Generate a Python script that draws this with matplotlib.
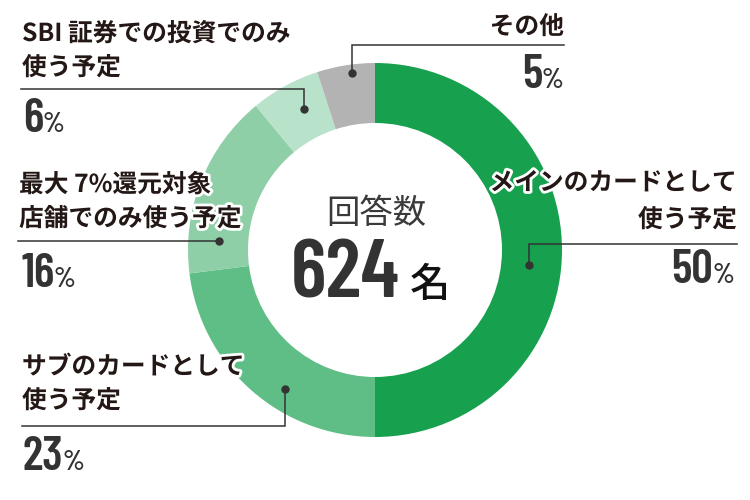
import matplotlib
matplotlib.use("Agg")
from matplotlib import pyplot as plt
from matplotlib import font_manager
import matplotlib.patheffects as pe

# answer shares, clockwise from 12 o'clock
shares = [50, 23, 16, 6, 5]
labels = [
    "メインのカードとして\n使う予定",
    "サブのカードとして\n使う予定",
    "最大 7%還元対象\n店舗でのみ使う予定",
    "SBI 証券での投資でのみ\n使う予定",
    "その他",
]
colors = ["#17a14f", "#5fbe85", "#8ecfa7", "#b8e2c9", "#b3b3b3"]
total_answers = 624

# narrow bold face for the big numbers, whatever is installed
fonts = {(f.name, f.weight) for f in font_manager.fontManager.ttflist}
NUM_FONT, NUM_W, thicken = "Oswald", 400, True
for cand in ["Barlow Condensed", "Roboto Condensed", "Asap Condensed"]:
    ws = [w for n, w in fonts if n == cand and isinstance(w, int) and 600 <= w <= 700]
    if ws:
        NUM_FONT, NUM_W, thicken = cand, min(ws), False
        break
JP = ["Noto Sans CJK JP", "DejaVu Sans"]

fig = plt.figure(figsize=(7.5, 5), dpi=100)
ax = fig.add_axes([0, 0, 1, 1])

# pixel-like coordinates, y grows downward
ax.pie(shares, colors=colors, startangle=-90, counterclock=True,
       center=(375, 250), radius=187, frame=True,
       wedgeprops=dict(width=60, linewidth=0))
ax.set_xlim(0, 750)
ax.set_ylim(500, 0)
ax.set_aspect("equal")
ax.axis("off")

LINE = "#333333"
TXT = "#231815"
NUM = "#333333"
halo = [pe.withStroke(linewidth=4, foreground="white")]
bold_fx = [pe.withStroke(linewidth=1.6, foreground=NUM)] if thicken else []

# label layout: text anchor, alignment, leader polyline (dot first), number baseline
layout = [
    dict(tx=737, ty=[183, 220], ha="right", path=[(529, 265), (529, 244), (737, 244)], ny=283, nx=734),
    dict(tx=22, ty=[367, 401], ha="left", path=[(285, 389), (285, 426), (22, 426)], ny=470, nx=23),
    dict(tx=19, ty=[185, 219], ha="left", path=[(219, 241), (18, 241)], ny=287, nx=21),
    dict(tx=22, ty=[34, 68], ha="left", path=[(304, 109), (304, 89), (21, 89)], ny=132, nx=23),
    dict(tx=564, ty=[27], ha="right", path=[(352, 73), (352, 45), (564, 45)], ny=88, nx=563),
]

fig.canvas.draw()
renderer = fig.canvas.get_renderer()
inv = ax.transData.inverted()


def width_data(t):
    bb = t.get_window_extent(renderer)
    x0 = inv.transform((bb.x0, bb.y0))[0]
    x1 = inv.transform((bb.x1, bb.y0))[0]
    return x1 - x0


big = 1.0 if thicken else 1.27
for share, label, lay in zip(shares, labels, layout):
    for line, y in zip(label.split("\n"), lay["ty"]):
        ax.text(lay["tx"], y, line, ha=lay["ha"], va="center", fontsize=17.8,
                fontweight="bold", family=JP, color=TXT, path_effects=halo)
    xs = [p[0] for p in lay["path"]]
    ys = [p[1] for p in lay["path"]]
    ax.plot(xs, ys, color=LINE, lw=1.1, solid_joinstyle="miter")
    ax.plot(xs[0], ys[0], "o", color=LINE, ms=5)

    num_kw = dict(fontsize=27 * big, fontweight=NUM_W, family=NUM_FONT, color=NUM,
                  va="baseline", path_effects=bold_fx)
    pct_kw = dict(fontsize=16 * big, fontweight=NUM_W, family=NUM_FONT, color=NUM,
                  va="baseline", path_effects=bold_fx)
    if lay["ha"] == "left":
        n = ax.text(lay["nx"], lay["ny"], str(share), ha="left", **num_kw)
        ax.text(lay["nx"] + width_data(n) - 1, lay["ny"], "%", ha="left", **pct_kw)
    else:
        p = ax.text(lay["nx"], lay["ny"], "%", ha="right", **pct_kw)
        ax.text(lay["nx"] - width_data(p) + 1, lay["ny"], str(share), ha="right", **num_kw)

# centre caption
ax.text(376, 213, "回答数", ha="center", va="center", fontsize=24, family=JP, color="#3a3a3a")
ax.text(400, 297, str(total_answers), ha="right", va="baseline", fontsize=47 * big,
        fontweight=NUM_W, family=NUM_FONT, color="#333333",
        path_effects=[pe.withStroke(linewidth=2.4, foreground="#333333")] if thicken else [])
ax.text(410, 297, "名", ha="left", va="baseline", fontsize=29, fontweight="medium",
        family=JP, color="#111111")

fig.savefig("out.png", dpi=100)
